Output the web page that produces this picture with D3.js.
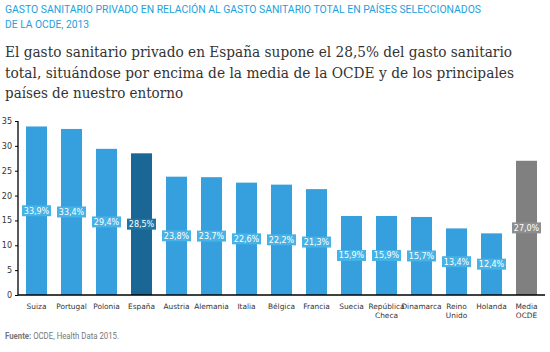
<!DOCTYPE html>
<html>
<head>
<meta charset="utf-8">
<script src="https://cdn.jsdelivr.net/npm/d3@7"></script>
<style>
  body { margin: 0; background: #fff; }
  svg { display: block; }
</style>
</head>
<body>
<div id="chart"></div>
<script>
// data
const countries = ["Suiza", "Portugal", "Polonia", "España", "Austria", "Alemania", "Italia",
  "Bélgica", "Francia", "Suecia", "República\nCheca", "Dinamarca", "Reino\nUnido", "Holanda", "Media\nOCDE"];
const values = [33.9, 33.4, 29.4, 28.5, 23.8, 23.7, 22.6, 22.2, 21.3, 15.9, 15.9, 15.7, 13.4, 12.4, 27.0];
const yTicks = [0, 5, 10, 15, 20, 25, 30, 35];

const w = 550, h = 352;

const svg = d3.select("#chart")
  .append("svg")
  .attr("width", w)
  .attr("height", h);

// header
const titleLines = ["GASTO SANITARIO PRIVADO EN RELACIÓN AL GASTO SANITARIO TOTAL EN PAÍSES SELECCIONADOS", "DE LA OCDE, 2013"];
const titleLen = [476, 84];
titleLines.forEach((t, i) => {
  svg.append("text")
    .attr("x", 5).attr("y", 13 + i * 15)
    .attr("font-family", "Liberation Sans Narrow, Roboto, sans-serif")
    .attr("font-size", 11)
    .attr("fill", "#1ba1dc")
    .attr("textLength", titleLen[i])
    .attr("lengthAdjust", "spacingAndGlyphs")
    .text(t);
});

const subLines = ["El gasto sanitario privado en España supone el 28,5% del gasto sanitario",
  "total, situándose por encima de la media de la OCDE y de los principales",
  "países de nuestro entorno"];
const subLen = [507, 509, 178];
subLines.forEach((t, i) => {
  svg.append("text")
    .attr("x", 5).attr("y", 57 + i * 20.5)
    .attr("font-family", "DejaVu Serif Condensed, DejaVu Serif, serif")
    .attr("font-stretch", "condensed")
    .attr("font-size", 15.3)
    .attr("fill", "#333")
    .attr("textLength", subLen[i])
    .attr("lengthAdjust", "spacingAndGlyphs")
    .text(t);
});

// scales
let x = d3.scaleBand()
  .domain(countries)
  .range([19, 544])
  .paddingInner(0.4)
  .paddingOuter(0.2);

let y = d3.scaleLinear()
  .domain([0, 35])
  .range([295, 121]);

const barColor = (d, i) => countries[i] === "España" ? "#1a6796" : (countries[i].startsWith("Media") ? "#808080" : "#36a0de");
const boxColor = (d, i) => countries[i] === "España" ? "#1f74a3" : (countries[i].startsWith("Media") ? "#8e8e8e" : "#47b2e6");

// y axis
const yAxis = svg.append("g")
  .attr("transform", "translate(18,0)")
  .call(d3.axisLeft(y).tickValues(yTicks).tickSize(3).tickPadding(3));
yAxis.select(".domain").attr("stroke", "#000").attr("stroke-width", 1.3)
  .attr("d", `M0,${y(35)}V${y(0)}`);
yAxis.selectAll(".tick line").attr("stroke", "#000");
yAxis.selectAll(".tick text")
  .attr("font-family", "DejaVu Sans, sans-serif")
  .attr("font-size", 8)
  .attr("fill", "#333");

// bars
svg.append("g")
  .selectAll("rect")
  .data(values)
  .join("rect")
  .attr("x", (d, i) => x(countries[i]))
  .attr("y", d => y(d))
  .attr("width", x.bandwidth())
  .attr("height", d => y(0) - y(d))
  .attr("fill", barColor);

// x axis line
svg.append("line")
  .attr("x1", 18).attr("x2", 545)
  .attr("y1", y(0)).attr("y2", y(0))
  .attr("stroke", "#000")
  .attr("stroke-width", 1.3);

// value labels in the middle of each bar
const labels = svg.append("g")
  .selectAll("g")
  .data(values)
  .join("g")
  .attr("transform", (d, i) => `translate(${x(countries[i]) + x.bandwidth() / 2},${y(d / 2)})`);

labels.append("rect")
  .attr("x", -14.5).attr("y", -5.5)
  .attr("width", 29).attr("height", 11)
  .attr("fill", boxColor);

labels.append("text")
  .attr("text-anchor", "middle")
  .attr("dy", "0.35em")
  .attr("font-family", "DejaVu Sans, sans-serif")
  .attr("font-size", 8)
  .attr("fill", "#fff")
  .text(d => d.toFixed(1).replace(".", ",") + "%");

// category labels
svg.append("g")
  .selectAll("text")
  .data(countries)
  .join("text")
  .attr("x", d => x(d) + x.bandwidth() / 2)
  .attr("y", 309)
  .attr("text-anchor", "middle")
  .attr("font-family", "DejaVu Sans, sans-serif")
  .attr("font-size", 7.4)
  .attr("fill", "#333")
  .each(function(d) {
    d.split("\n").forEach((line, k) => {
      d3.select(this).append("tspan")
        .attr("x", x(d) + x.bandwidth() / 2)
        .attr("dy", k === 0 ? 0 : 8.5)
        .text(line);
    });
  });

// source
const src = svg.append("text")
  .attr("x", 5).attr("y", 339)
  .attr("font-family", "Liberation Sans Narrow, Roboto, sans-serif")
  .attr("font-size", 8.5)
  .attr("fill", "#777")
  .attr("textLength", 114)
  .attr("lengthAdjust", "spacingAndGlyphs");
src.append("tspan").attr("font-weight", "bold").text("Fuente: ");
src.append("tspan").text("OCDE, Health Data 2015.");
</script>
</body>
</html>
